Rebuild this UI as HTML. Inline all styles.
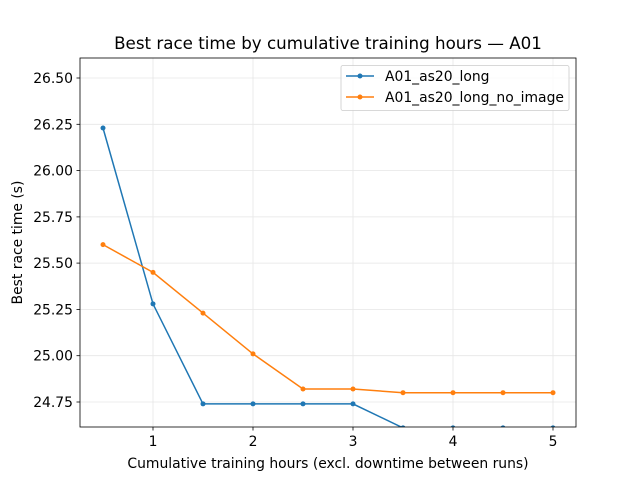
<!DOCTYPE html>
<html><head><meta charset="utf-8"><style>body{margin:0;background:#fff}svg{display:block}</style></head><body>
<svg width="640" height="480" xmlns="http://www.w3.org/2000/svg" font-family="DejaVu Sans, Liberation Sans, sans-serif">
<rect width="640" height="480" fill="#fff"/>
<defs><clipPath id="c"><rect x="80" y="58" width="496" height="369"/></clipPath></defs>
<g stroke="#e6e6e6" stroke-width="0.8">
<line x1="153" y1="58" x2="153" y2="427"/><line x1="253" y1="58" x2="253" y2="427"/><line x1="353" y1="58" x2="353" y2="427"/><line x1="453" y1="58" x2="453" y2="427"/><line x1="553" y1="58" x2="553" y2="427"/>
<line x1="80" y1="402" x2="576" y2="402"/><line x1="80" y1="355.7" x2="576" y2="355.7"/><line x1="80" y1="309.4" x2="576" y2="309.4"/><line x1="80" y1="263.1" x2="576" y2="263.1"/><line x1="80" y1="216.9" x2="576" y2="216.9"/><line x1="80" y1="170.6" x2="576" y2="170.6"/><line x1="80" y1="124.3" x2="576" y2="124.3"/><line x1="80" y1="78" x2="576" y2="78"/>
</g>
<g clip-path="url(#c)">
<polyline fill="none" stroke="#1f77b4" stroke-width="1.5" points="103,128 153,303.9 203,403.9 253,403.9 303,403.9 353,403.9 403,427.9 453,427.9 503,427.9 553,427.9"/>
<g fill="#1f77b4"><circle cx="103" cy="128" r="2.5"/><circle cx="153" cy="303.9" r="2.5"/><circle cx="203" cy="403.9" r="2.5"/><circle cx="253" cy="403.9" r="2.5"/><circle cx="303" cy="403.9" r="2.5"/><circle cx="353" cy="403.9" r="2.5"/><circle cx="403" cy="427.9" r="2.5"/><circle cx="453" cy="427.9" r="2.5"/><circle cx="503" cy="427.9" r="2.5"/><circle cx="553" cy="427.9" r="2.5"/></g>
<polyline fill="none" stroke="#ff7f0e" stroke-width="1.5" points="103,244.6 153,272.4 203,313.1 253,353.9 303,389 353,389 403,392.7 453,392.7 503,392.7 553,392.7"/>
<g fill="#ff7f0e"><circle cx="103" cy="244.6" r="2.5"/><circle cx="153" cy="272.4" r="2.5"/><circle cx="203" cy="313.1" r="2.5"/><circle cx="253" cy="353.9" r="2.5"/><circle cx="303" cy="389" r="2.5"/><circle cx="353" cy="389" r="2.5"/><circle cx="403" cy="392.7" r="2.5"/><circle cx="453" cy="392.7" r="2.5"/><circle cx="503" cy="392.7" r="2.5"/><circle cx="553" cy="392.7" r="2.5"/></g>
</g>
<rect x="80" y="58" width="496" height="369" fill="none" stroke="#000" stroke-width="0.8"/>
<g stroke="#000" stroke-width="0.8">
<line x1="153" y1="427" x2="153" y2="430.5"/><line x1="253" y1="427" x2="253" y2="430.5"/><line x1="353" y1="427" x2="353" y2="430.5"/><line x1="453" y1="427" x2="453" y2="430.5"/><line x1="553" y1="427" x2="553" y2="430.5"/>
<line x1="76.5" y1="402" x2="80" y2="402"/><line x1="76.5" y1="355.7" x2="80" y2="355.7"/><line x1="76.5" y1="309.4" x2="80" y2="309.4"/><line x1="76.5" y1="263.1" x2="80" y2="263.1"/><line x1="76.5" y1="216.9" x2="80" y2="216.9"/><line x1="76.5" y1="170.6" x2="80" y2="170.6"/><line x1="76.5" y1="124.3" x2="80" y2="124.3"/><line x1="76.5" y1="78" x2="80" y2="78"/>
</g>
<g font-size="13.9" text-anchor="middle" fill="#000">
<text x="153" y="446">1</text><text x="253" y="446">2</text><text x="353" y="446">3</text><text x="453" y="446">4</text><text x="553" y="446">5</text>
</g>
<g font-size="13.9" text-anchor="end" fill="#000">
<text x="73" y="407">24.75</text><text x="73" y="360.7">25.00</text><text x="73" y="314.4">25.25</text><text x="73" y="268.1">25.50</text><text x="73" y="221.9">25.75</text><text x="73" y="175.6">26.00</text><text x="73" y="129.3">26.25</text><text x="73" y="83">26.50</text>
</g>
<text x="328" y="468" font-size="13.9" text-anchor="middle">Cumulative training hours (excl. downtime between runs)</text>
<text transform="translate(22,242.5) rotate(-90)" font-size="13.9" text-anchor="middle">Best race time (s)</text>
<text x="328" y="49" font-size="16.7" text-anchor="middle">Best race time by cumulative training hours — A01</text>
<rect x="341" y="65.5" width="228" height="45" rx="2" fill="#fff" fill-opacity="0.8" stroke="#ccc" stroke-width="0.8"/>
<line x1="346" y1="76" x2="374" y2="76" stroke="#1f77b4" stroke-width="1.5"/><circle cx="360" cy="76" r="2.5" fill="#1f77b4"/>
<text x="385" y="81" font-size="13.9">A01_as20_long</text>
<line x1="346" y1="97" x2="374" y2="97" stroke="#ff7f0e" stroke-width="1.5"/><circle cx="360" cy="97" r="2.5" fill="#ff7f0e"/>
<text x="385" y="102" font-size="13.9">A01_as20_long_no_image</text>
</svg>
</body></html>
